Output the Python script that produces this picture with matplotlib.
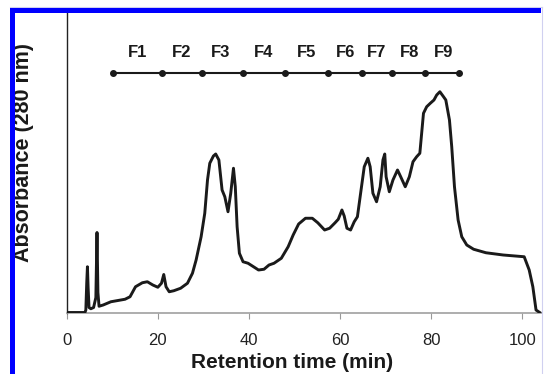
import matplotlib
matplotlib.use("Agg")
import matplotlib.pyplot as plt
from matplotlib.patches import Rectangle
from matplotlib.lines import Line2D

# ---- data ----
time_min = [0.0, 4.0, 4.2, 4.4, 4.55, 4.7, 4.9, 5.3, 5.9, 6.4, 6.65, 6.85, 7.1, 8.0,
            9.7, 12.8, 13.9, 15.1, 16.6, 17.7, 18.9, 20.0, 20.8, 21.3, 21.8, 22.5,
            23.5, 25.0, 26.5, 27.6, 28.4, 29.5, 30.3, 30.9, 31.4, 32.2, 32.7, 33.4,
            34.1, 34.7, 35.4, 36.0, 36.6, 37.0, 37.4, 37.9, 38.7, 39.8, 41.0, 42.1,
            43.3, 44.4, 45.5, 47.1, 48.6, 49.7, 50.9, 52.4, 53.9, 55.1, 56.6, 57.7,
            58.9, 59.6, 60.4, 60.9, 61.5, 62.3, 63.1, 63.8, 64.6, 65.3, 66.1, 66.6,
            67.2, 68.0, 68.8, 69.4, 69.8, 70.1, 70.8, 71.6, 72.6, 73.3, 74.3, 75.2,
            76.0, 76.8, 77.5, 77.9, 78.3, 79.0, 79.8, 80.6, 81.2, 81.9, 82.7, 83.2,
            84.0, 84.5, 85.1, 85.9, 86.7, 87.8, 89.3, 92.0, 95.8, 100.4, 101.5,
            102.3, 103.0, 103.8]
absorbance = [0.0, 0.0, 0.01, 0.12, 0.183, 0.10, 0.02, 0.015, 0.02, 0.06, 0.32, 0.08, 0.025, 0.03,
              0.043, 0.053, 0.063, 0.103, 0.119, 0.123, 0.110, 0.101, 0.117, 0.152, 0.103, 0.083,
              0.087, 0.097, 0.117, 0.157, 0.210, 0.303, 0.397, 0.530, 0.597, 0.626, 0.634, 0.610,
              0.490, 0.463, 0.403, 0.477, 0.577, 0.503, 0.343, 0.237, 0.203, 0.197, 0.183, 0.170,
              0.173, 0.190, 0.197, 0.217, 0.263, 0.310, 0.354, 0.377, 0.377, 0.359, 0.330, 0.337,
              0.359, 0.373, 0.410, 0.386, 0.337, 0.330, 0.363, 0.383, 0.490, 0.583, 0.617, 0.583,
              0.477, 0.443, 0.503, 0.610, 0.634, 0.543, 0.483, 0.530, 0.570, 0.543, 0.503, 0.543,
              0.603, 0.623, 0.637, 0.717, 0.797, 0.823, 0.837, 0.850, 0.870, 0.883, 0.863, 0.850,
              0.770, 0.663, 0.503, 0.370, 0.303, 0.270, 0.253, 0.239, 0.230, 0.223, 0.170,
              0.103, 0.010, 0.0]

fraction_bounds = [10.2, 20.9, 29.6, 38.8, 47.9, 57.4, 64.8, 71.4, 78.7, 86.2]
fraction_labels = ["F1", "F2", "F3", "F4", "F5", "F6", "F7", "F8", "F9"]
fraction_label_x = [15.5, 25.2, 33.7, 43.3, 52.7, 61.3, 68.1, 75.2, 82.6]
xticks = [0, 20, 40, 60, 80, 100]

plt.rcParams['font.family'] = ['Liberation Sans', 'DejaVu Sans']

W, H = 544, 374
fig = plt.figure(figsize=(W / 100, H / 100), dpi=100)
fig.patch.set_facecolor('white')

left, right, bottom_px, top_px = 66.7, 541.5, 312.5, 8
ax = fig.add_axes([left / W, (H - bottom_px) / H, (right - left) / W, (bottom_px - top_px) / H])
ax.set_xlim(0, 104.2)
ax.set_ylim(0, 1.218)

ink = '#1a1a1a'
ax.plot(time_min, absorbance, color=ink, lw=2.1, solid_joinstyle='round', zorder=3)

# fraction bar
bar_y = 0.959
ax.plot(fraction_bounds, [bar_y] * len(fraction_bounds), color=ink, lw=1.5,
        marker='o', markersize=4, zorder=3)
for lab, xl in zip(fraction_labels, fraction_label_x):
    ax.text(xl, 1.04, lab, ha='center', va='center', fontsize=12, fontweight='bold', color=ink)

for s in ['top', 'right']:
    ax.spines[s].set_visible(False)
ax.spines['left'].set_color('#222222')
ax.spines['left'].set_linewidth(1.0)
ax.spines['bottom'].set_color('#a0a0a0')
ax.spines['bottom'].set_linewidth(1.2)

ax.set_xticks(xticks)
ax.set_xticklabels([str(t) for t in xticks])
ax.set_yticks([])
ax.tick_params(axis='x', direction='out', length=4, width=0.8, color='#999999',
               labelsize=12, pad=11, labelcolor='#222222')

fig.text(24 / W, 1 - 152 / H, 'Absorbance (280 nm)', rotation=90, ha='center', va='center',
         fontsize=15.5, fontweight='bold', color=ink, zorder=1)
fig.text(292.5 / W, 1 - 353 / H, 'Retention time (min)', ha='center', va='top',
         fontsize=15, fontweight='bold', color=ink, zorder=1)

# blue frame
fig.patches.append(Rectangle((10 / W, 1 - 13 / H), 531 / W, 5 / H, transform=fig.transFigure,
                             facecolor='#0000ff', edgecolor='none', zorder=10))
fig.patches.append(Rectangle((10 / W, 0), 5 / W, (H - 8) / H, transform=fig.transFigure,
                             facecolor='#0000ff', edgecolor='none', zorder=10))
fig.lines.append(Line2D([10 / W, 542 / W], [1 - 7 / H, 1 - 7 / H], transform=fig.transFigure,
                        color='#d0d0f0', lw=0.8, zorder=9))
fig.lines.append(Line2D([542 / W, 542 / W], [0, 1 - 7 / H], transform=fig.transFigure,
                        color='#d0d0f0', lw=0.8, zorder=9))

fig.savefig('out.png', dpi=100)
